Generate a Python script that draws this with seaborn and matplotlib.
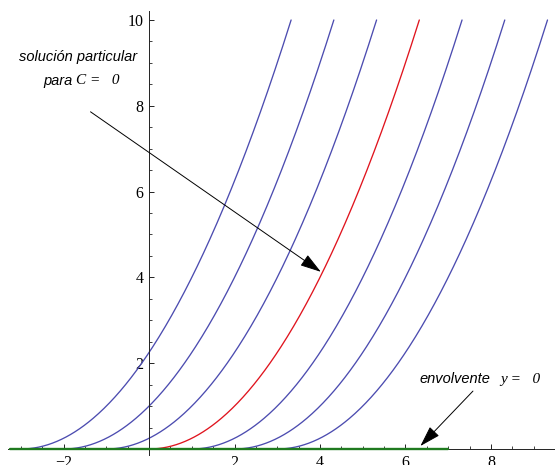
import numpy as np
import pandas as pd
import seaborn as sns
import matplotlib.pyplot as plt

# Family of solutions y = (x - C)^2 / 4 (for x >= C) and the singular solution y = 0
C_values = [-3, -2, -1, 0, 1, 2, 3]
C_particular = 0
y_top = 10
envelope_x = [-3.26, 7.0]
envelope_y = [0.0, 0.0]
x_ticks = [-2, 2, 4, 6, 8]
y_ticks = [2, 4, 6, 8, 10]

blue = "#4c4cb0"
red = "#e0141e"
green = "#1f7a1f"
axis_col = "#222222"

sns.set_theme(style="white")
plt.rcParams["font.family"] = ["Liberation Serif", "DejaVu Serif"]
plt.rcParams["text.color"] = "black"

fig = plt.figure(figsize=(5.55, 4.65), dpi=100)
ax = fig.add_axes([0, 0, 1, 1])

frames = []
for C in C_values:
    x = np.linspace(C, C + np.sqrt(4 * y_top), 300)
    frames.append(pd.DataFrame({"x": x, "y": (x - C) ** 2 / 4, "C": C}))
curves = pd.concat(frames, ignore_index=True)

palette = {C: (red if C == C_particular else blue) for C in C_values}
sns.lineplot(data=curves, x="x", y="y", hue="C", palette=palette,
             estimator=None, sort=False, legend=False, lw=0.95, ax=ax)
sns.lineplot(x=envelope_x, y=envelope_y, color=green, lw=1.7, ax=ax, zorder=3)

# Axes through the origin
ax.set_xlim(-3.488, 9.419)
ax.set_ylim(-0.373, 10.466)
for side in ("top", "right"):
    ax.spines[side].set_visible(False)
for side in ("left", "bottom"):
    ax.spines[side].set_position(("data", 0))
    ax.spines[side].set_color(axis_col)
    ax.spines[side].set_linewidth(0.7)
ax.spines["left"].set_bounds(-0.15, 10.2)
ax.spines["bottom"].set_bounds(-3.3, 9.5)

ax.set_xticks(x_ticks)
ax.set_yticks(y_ticks)
ax.set_xticks(np.arange(-3, 9.51, 0.5), minor=True)
ax.set_yticks(np.arange(0.5, 10.01, 0.5), minor=True)
ax.tick_params(which="both", bottom=True, left=True, top=False, right=False,
               direction="in", color=axis_col)
ax.tick_params(which="major", length=3.4, width=0.7,
               labelsize=11.5, labelcolor="black", pad=4)
ax.tick_params(which="minor", length=2.0, width=0.6)
ax.set_xlabel("")
ax.set_ylabel("")

# Annotations
sans_it = dict(family="Liberation Sans", style="italic", fontsize=10.5, color="black")
serif_it = dict(family="Liberation Serif", style="italic", fontsize=11, color="black")
arrow = dict(arrowstyle="-|>,head_length=1.3,head_width=0.4",
             color="black", lw=0.7, shrinkA=0, shrinkB=0, mutation_scale=10)

ax.text(-1.65, 9.14, "solución particular", ha="center", va="center", **sans_it)
ax.text(-1.79, 8.58, "para", ha="right", va="center", **sans_it)
ax.text(-1.70, 8.58, "C =   0", ha="left", va="center", **serif_it)
ax.annotate("", xy=(4.02, 4.13), xytext=(-1.37, 7.86), arrowprops=arrow)

ax.text(6.33, 1.63, "envolvente", ha="left", va="center", **sans_it)
ax.text(8.21, 1.63, "y =   0", ha="left", va="center", **serif_it)
ax.annotate("", xy=(6.35, 0.07), xytext=(7.58, 1.35), arrowprops=arrow)

fig.savefig("out.png", dpi=100)
